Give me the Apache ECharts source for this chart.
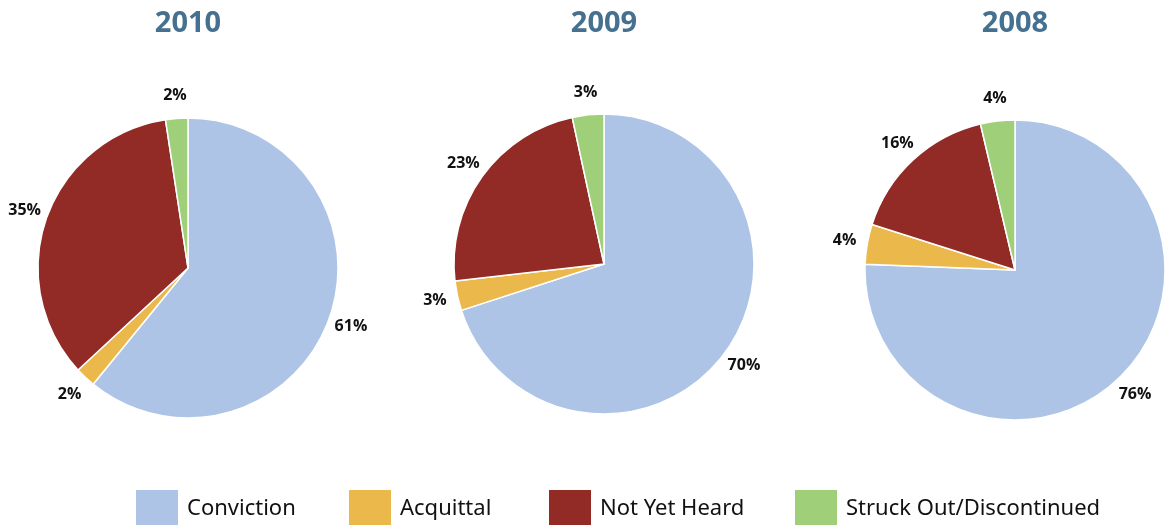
<!DOCTYPE html>
<html>
<head>
<meta charset="utf-8">
<script src="https://cdn.jsdelivr.net/npm/echarts@6/dist/echarts.min.js"></script>
<style>
  html, body { margin: 0; padding: 0; background: #fff; }
  #main { width: 1167px; height: 525px; }
</style>
</head>
<body>
<div id="main"></div>
<script>
// data (shares in %, slice sizes estimated from the angles)
const categories = ['Conviction', 'Acquittal', 'Not Yet Heard', 'Struck Out/Discontinued'];
const years = ['2010', '2009', '2008'];
const values2010 = [60.9, 2.2, 34.5, 2.4];
const values2009 = [70.0, 3.2, 23.4, 3.4];
const values2008 = [75.6, 4.3, 16.4, 3.7];
const colors = ['#aec4e6', '#ebb84b', '#922a25', '#9fcf78'];

const allValues = [values2010, values2009, values2008];
const centers = [[188, 268], [604, 264], [1015, 270]];
const legendLeft = [134, 347, 547, 793];

const chart = echarts.init(document.getElementById('main'));

const pieData = vals => categories.map((c, k) => ({ name: c, value: vals[k] }));

// the coloured pies
const pies = allValues.map((vals, i) => ({
  name: years[i],
  type: 'pie',
  center: centers[i],
  radius: 150,
  startAngle: 90,
  clockwise: true,
  itemStyle: { borderColor: '#fff', borderWidth: 1.5 },
  label: { show: false },
  labelLine: { show: false },
  emphasis: { disabled: true },
  data: pieData(vals)
}));

// transparent ring just outside each pie, only to put the % labels centred round it
const labelRings = allValues.map((vals, i) => ({
  name: years[i] + ' labels',
  type: 'pie',
  center: centers[i],
  radius: [150, 190],
  startAngle: 90,
  clockwise: true,
  silent: true,
  itemStyle: { color: 'transparent' },
  label: {
    show: true,
    position: 'inside',
    formatter: p => Math.round(p.value) + '%',
    fontFamily: 'Open Sans',
    fontWeight: 'bold',
    fontSize: 16,
    color: '#111'
  },
  labelLine: { show: false },
  emphasis: { disabled: true },
  data: pieData(vals)
}));

const option = {
  color: colors,
  animation: false,
  title: years.map((y, i) => ({
    text: y,
    left: centers[i][0],
    top: 9,
    padding: 0,
    textAlign: 'center',
    textStyle: {
      fontFamily: 'Open Sans',
      fontWeight: 'bold',
      fontSize: 29,
      color: '#46708f'
    }
  })),
  legend: categories.map((name, i) => ({
    data: [name],
    left: legendLeft[i],
    top: 488,
    padding: 0,
    itemWidth: 44,
    itemHeight: 40,
    itemGap: 0,
    icon: 'rect',
    selectedMode: false,
    textStyle: {
      fontFamily: 'Noto Sans',
      fontSize: 22,
      color: '#111',
      padding: [0, 0, 0, 3]
    }
  })),
  series: pies.concat(labelRings)
};

chart.setOption(option);
</script>
</body>
</html>
